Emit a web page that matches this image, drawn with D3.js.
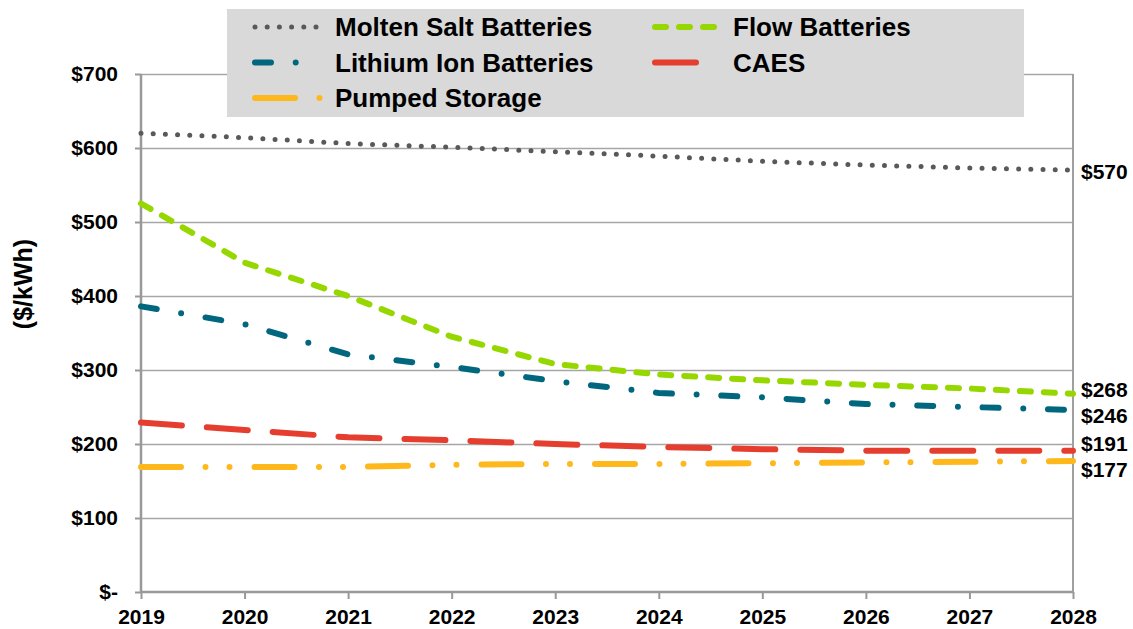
<!DOCTYPE html>
<html>
<head>
<meta charset="utf-8">
<script src="https://cdn.jsdelivr.net/npm/d3@7"></script>
<style>
  body { margin: 0; background: #fff; }
  svg { display: block; font-family: "Liberation Sans", Arial, sans-serif; font-weight: bold; }
</style>
</head>
<body>
<div id="chart"></div>
<script>
(function (d3) {

// chart data
var years = ["2019", "2020", "2021", "2022", "2023", "2024", "2025", "2026", "2027", "2028"];
var moltenSalt = [620, 614, 606, 601, 595, 589, 582, 577, 573, 570];
var flowBatteries = [525, 445, 400, 345, 308, 294, 286, 280, 275, 268];
var lithiumIon = [386, 362, 321, 304, 285, 269, 263, 254, 250, 246];
var caes = [229, 219, 209, 205, 200, 196, 193, 191, 191, 191];
var pumpedStorage = [169, 169, 169, 172, 173, 173, 174, 175, 176, 177];
var seriesNames = ["Molten Salt Batteries", "Lithium Ion Batteries", "Pumped Storage", "Flow Batteries", "CAES"];
var yTicks = [0, 100, 200, 300, 400, 500, 600, 700];

var series = [
  { name: seriesNames[0], values: moltenSalt, color: "#595959", width: 5, dash: "0,12.2" },
  { name: seriesNames[1], values: lithiumIon, color: "#00677f", width: 6, dash: "16,24.7,0,24.7" },
  { name: seriesNames[2], values: pumpedStorage, color: "#ffb81c", width: 6, dash: "40,24.5,0,24,0,25" },
  { name: seriesNames[3], values: flowBatteries, color: "#97d700", width: 6, dash: "11,13" },
  { name: seriesNames[4], values: caes, color: "#e53e2f", width: 6, dash: "41,25" }
];

var width = 1133;
var height = 629;
var left = 141, right = 1073, top = 74, bottom = 592;

var svg = d3.select('#chart')
    .append('svg')
    .attr('width', width)
    .attr('height', height);

var x = d3.scalePoint()
    .domain(years)
    .range([left, right]);

var y = d3.scaleLinear()
    .domain([0, 700])
    .range([bottom, top]);

// gridlines
svg.append('g')
    .selectAll('line')
    .data(yTicks.filter(function (d) { return d > 0; }))
    .enter()
    .append('line')
    .attr('x1', left)
    .attr('x2', right)
    .attr('y1', function (d) { return y(d) + 0.5; })
    .attr('y2', function (d) { return y(d) + 0.5; })
    .attr('stroke', '#a6a6a6')
    .attr('stroke-width', 1.6);

// right border
svg.append('line')
    .attr('x1', right).attr('x2', right)
    .attr('y1', top).attr('y2', bottom)
    .attr('stroke', '#a0a0a0')
    .attr('stroke-width', 2);

// y axis
var yAxis = svg.append('g')
    .attr('transform', 'translate(' + left + ',0)')
    .call(d3.axisLeft(y)
      .tickValues(yTicks)
      .tickSize(6)
      .tickPadding(17)
      .tickFormat(function (d) { return d === 0 ? '$-' : '$' + d; }));

// x axis
var xAxis = svg.append('g')
    .attr('transform', 'translate(0,' + bottom + ')')
    .call(d3.axisBottom(x)
      .tickSize(7)
      .tickPadding(10));

[yAxis, xAxis].forEach(function (ax) {
  ax.select('.domain').attr('stroke', '#999').attr('stroke-width', 2.5);
  ax.selectAll('.tick line').attr('stroke', '#999').attr('stroke-width', 2);
  ax.selectAll('.tick text')
    .attr('fill', '#000')
    .attr('font-size', '21px')
    .attr('font-weight', 'bold')
    .attr('font-family', '"Liberation Sans", Arial, sans-serif');
});
xAxis.select('.domain').attr('d', 'M' + left + ',0H' + right);
yAxis.select('.domain').attr('d', 'M0,' + top + 'V' + bottom);

// y title
svg.append('text')
    .attr('transform', 'translate(32,284) rotate(-90)')
    .attr('text-anchor', 'middle')
    .attr('font-size', '25px')
    .text('($/kWh)');

// lines
var line = d3.line()
    .x(function (d, i) { return x(years[i]); })
    .y(function (d) { return y(d); });

svg.append('g')
    .selectAll('path')
    .data(series)
    .enter()
    .append('path')
    .attr('d', function (d) { return line(d.values); })
    .attr('fill', 'none')
    .attr('stroke', function (d) { return d.color; })
    .attr('stroke-width', function (d) { return d.width; })
    .attr('stroke-dasharray', function (d) { return d.dash; })
    .attr('stroke-linecap', 'round')
    .attr('stroke-linejoin', 'round');

// end value labels, spread apart where they collide
var ends = series.map(function (s) {
  var v = s.values[s.values.length - 1];
  return { value: v, pos: y(v) };
}).sort(function (a, b) { return a.pos - b.pos; });
var minGap = 26;
for (var iter = 0; iter < 20; iter++) {
  for (var i = 1; i < ends.length; i++) {
    var gap = ends[i].pos - ends[i - 1].pos;
    if (gap < minGap) {
      var shift = (minGap - gap) / 2;
      ends[i - 1].pos -= shift;
      ends[i].pos += shift;
    }
  }
}
svg.append('g')
    .selectAll('text')
    .data(ends)
    .enter()
    .append('text')
    .attr('x', right + 8)
    .attr('y', function (d) { return d.pos + 1; })
    .attr('dy', '0.35em')
    .attr('font-size', '21px')
    .text(function (d) { return '$' + d.value; });

// legend
var legend = svg.append('g');
legend.append('rect')
    .attr('x', 227)
    .attr('y', 9)
    .attr('width', 797)
    .attr('height', 108)
    .attr('fill', '#d9d9d9');

var legendItem = legend.selectAll('.legend')
    .data(series)
    .enter()
    .append('g')
    .attr('class', 'legend')
    .attr('transform', function (d, i) {
      var col = i < 3 ? 0 : 1;
      var row = i < 3 ? i : i - 3;
      return 'translate(' + (col === 0 ? 255 : 655) + ',' + (27 + row * 35.5) + ')';
    });

legendItem.append('line')
    .attr('x1', 0)
    .attr('x2', 65)
    .attr('stroke', function (d) { return d.color; })
    .attr('stroke-width', function (d) { return d.width; })
    .attr('stroke-dasharray', function (d) { return d.dash; })
    .attr('stroke-linecap', 'round');

legendItem.append('text')
    .attr('x', function (d, i) { return i < 3 ? 80 : 78; })
    .attr('dy', '0.36em')
    .attr('font-size', '26px')
    .text(function (d) { return d.name; });

})(window.d3);
</script>
</body>
</html>
